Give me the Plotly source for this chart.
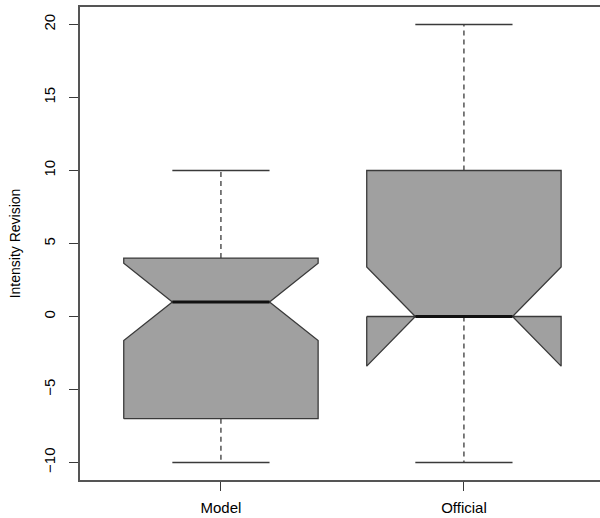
import plotly.graph_objects as go

categories = ["Model", "Official"]
positions = [1, 2]
lower_whisker = [-10, -10]
q1 = [-7, 0]
median = [1, 0]
q3 = [4, 10]
upper_whisker = [10, 20]
notch_span = [2.65, 3.4]
y_ticks = [-10, -5, 0, 5, 10, 15, 20]

BOX_HALF = 0.4
NOTCH_HALF = 0.2
CAP_HALF = 0.2
LINE = "#3a3a3a"
FILL = "#a0a0a0"

fig = go.Figure()
for i, name in enumerate(categories):
    c = positions[i]
    lo_n = median[i] - notch_span[i]
    hi_n = median[i] + notch_span[i]
    L, R = c - BOX_HALF, c + BOX_HALF
    nl, nr = c - NOTCH_HALF, c + NOTCH_HALF
    xs = [L, L, nl, L, L, R, R, nr, R, R, L]
    ys = [q1[i], lo_n, median[i], hi_n, q3[i], q3[i], hi_n, median[i], lo_n, q1[i], q1[i]]
    fig.add_trace(go.Scatter(x=[c, c], y=[q3[i], upper_whisker[i]], mode="lines",
                             line=dict(color=LINE, width=1.3, dash="5px,4px"), hoverinfo="skip"))
    fig.add_trace(go.Scatter(x=[c, c], y=[q1[i], lower_whisker[i]], mode="lines",
                             line=dict(color=LINE, width=1.3, dash="5px,4px"), hoverinfo="skip"))
    fig.add_trace(go.Scatter(x=[c - CAP_HALF, c + CAP_HALF], y=[upper_whisker[i]] * 2, mode="lines",
                             line=dict(color=LINE, width=1.3), hoverinfo="skip"))
    fig.add_trace(go.Scatter(x=[c - CAP_HALF, c + CAP_HALF], y=[lower_whisker[i]] * 2, mode="lines",
                             line=dict(color=LINE, width=1.3), hoverinfo="skip"))
    fig.add_trace(go.Scatter(x=xs, y=ys, mode="lines", fill="toself", fillcolor=FILL,
                             line=dict(color=LINE, width=1.3), name=name, hoverinfo="skip"))
    fig.add_trace(go.Scatter(x=[nl, nr], y=[median[i]] * 2, mode="lines",
                             line=dict(color="#111111", width=3), hoverinfo="skip"))

fig.update_layout(
    width=600, height=518,
    margin=dict(l=80, r=0, t=7, b=38),
    paper_bgcolor="white", plot_bgcolor="white",
    showlegend=False,
    font=dict(family="Liberation Sans, Arial, sans-serif", size=15, color="black"),
)
fig.update_xaxes(
    range=[0.42, 2.56], tickvals=positions, ticktext=categories,
    ticks="outside", ticklen=9, tickcolor=LINE, showgrid=False, zeroline=False,
    showline=True, linecolor="#555555", linewidth=1.5, mirror=True,
    tickfont=dict(size=15), ticklabelstandoff=4,
)
fig.update_yaxes(
    range=[-11.2, 21.2], tickvals=y_ticks, tickangle=-90,
    ticks="outside", ticklen=9, tickcolor=LINE, showgrid=False, zeroline=False,
    showline=True, linecolor="#555555", linewidth=1.5,
    title=dict(text="Intensity Revision", font=dict(size=14), standoff=17),
    tickfont=dict(size=15), ticklabelstandoff=8,
)
fig.write_html("out.html", config={"displayModeBar": False},
               post_script="document.body.style.margin='0';document.body.style.padding='0';")
